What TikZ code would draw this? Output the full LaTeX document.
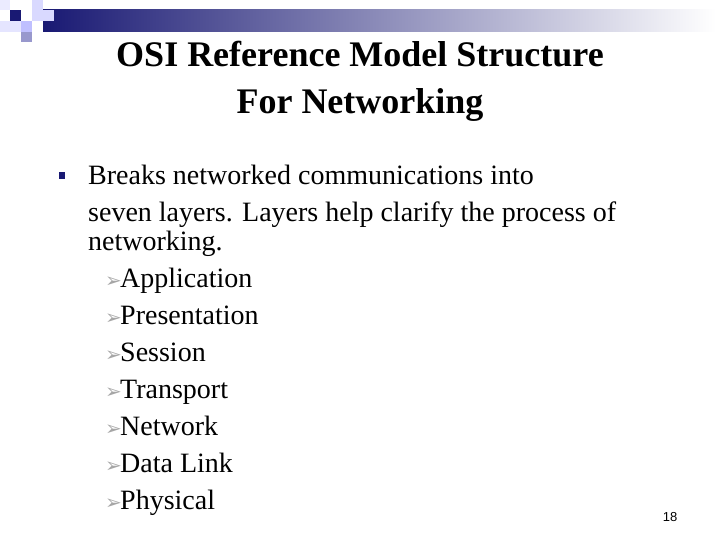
\documentclass[tikz,border=0pt]{standalone}
\usepackage{fontspec}
\setmainfont{Liberation Serif}
\newfontfamily\serf{Liberation Serif}
\newfontfamily\symf{DejaVu Sans}
\newfontfamily\sansf{Liberation Sans}
\definecolor{navy}{RGB}{25,25,115}
\begin{document}
\begin{tikzpicture}[x=1pt,y=-1pt,
  body/.style={anchor=base west,inner sep=0,font=\serf\fontsize{28}{32}\selectfont},
  ttl/.style={anchor=base,inner sep=0,font=\serf\bfseries\fontsize{36}{40}\selectfont},
  arr/.style={anchor=base west,inner sep=0,text=gray!70,font=\symf\fontsize{20}{20}\selectfont}]
\useasboundingbox (0,0) rectangle (720,540);
\fill[white] (0,0) rectangle (720,540);
% decoration
\fill[left color=navy, right color=white] (43,10) rectangle (716,32);
\fill[blue!8] (0,0) rectangle (10,10);
\fill[blue!15] (32,0) rectangle (43,10);
\fill[blue!15] (32,10) rectangle (54,21);
\fill[navy] (10,10) rectangle (21,21);
\fill[blue!10] (0,21) rectangle (21,32);
\fill[blue!25] (21,21) rectangle (32,32);
\fill[blue!35!gray!60] (21,32) rectangle (32,42);
% title
\node[ttl] (t1) at (360,67) {OSI Reference Model Structure};
\node[ttl] (t2) at (360,114) {For Networking};
\fill[navy] (59,172) rectangle (65,179);
\node[body] (l1) at (88,185) {Breaks networked communications into};
\node[body] (l2) at (88,222) {seven layers. Layers help clarify the process of};
\node[body] (l3) at (88,250) {networking.};
\foreach \t [count=\i] in {Application,Presentation,Session,Transport,Network,Data Link,Physical}{
  \node[arr] (a\i) at (105,{250+37*\i}) {➢};
  \node[body] (s\i) at (120,{250+37*\i}) {\t};
}
\node[anchor=base,inner sep=0,font=\sansf\fontsize{13}{13}\selectfont] (pg) at (670,521) {18};
\end{tikzpicture}
\end{document}
